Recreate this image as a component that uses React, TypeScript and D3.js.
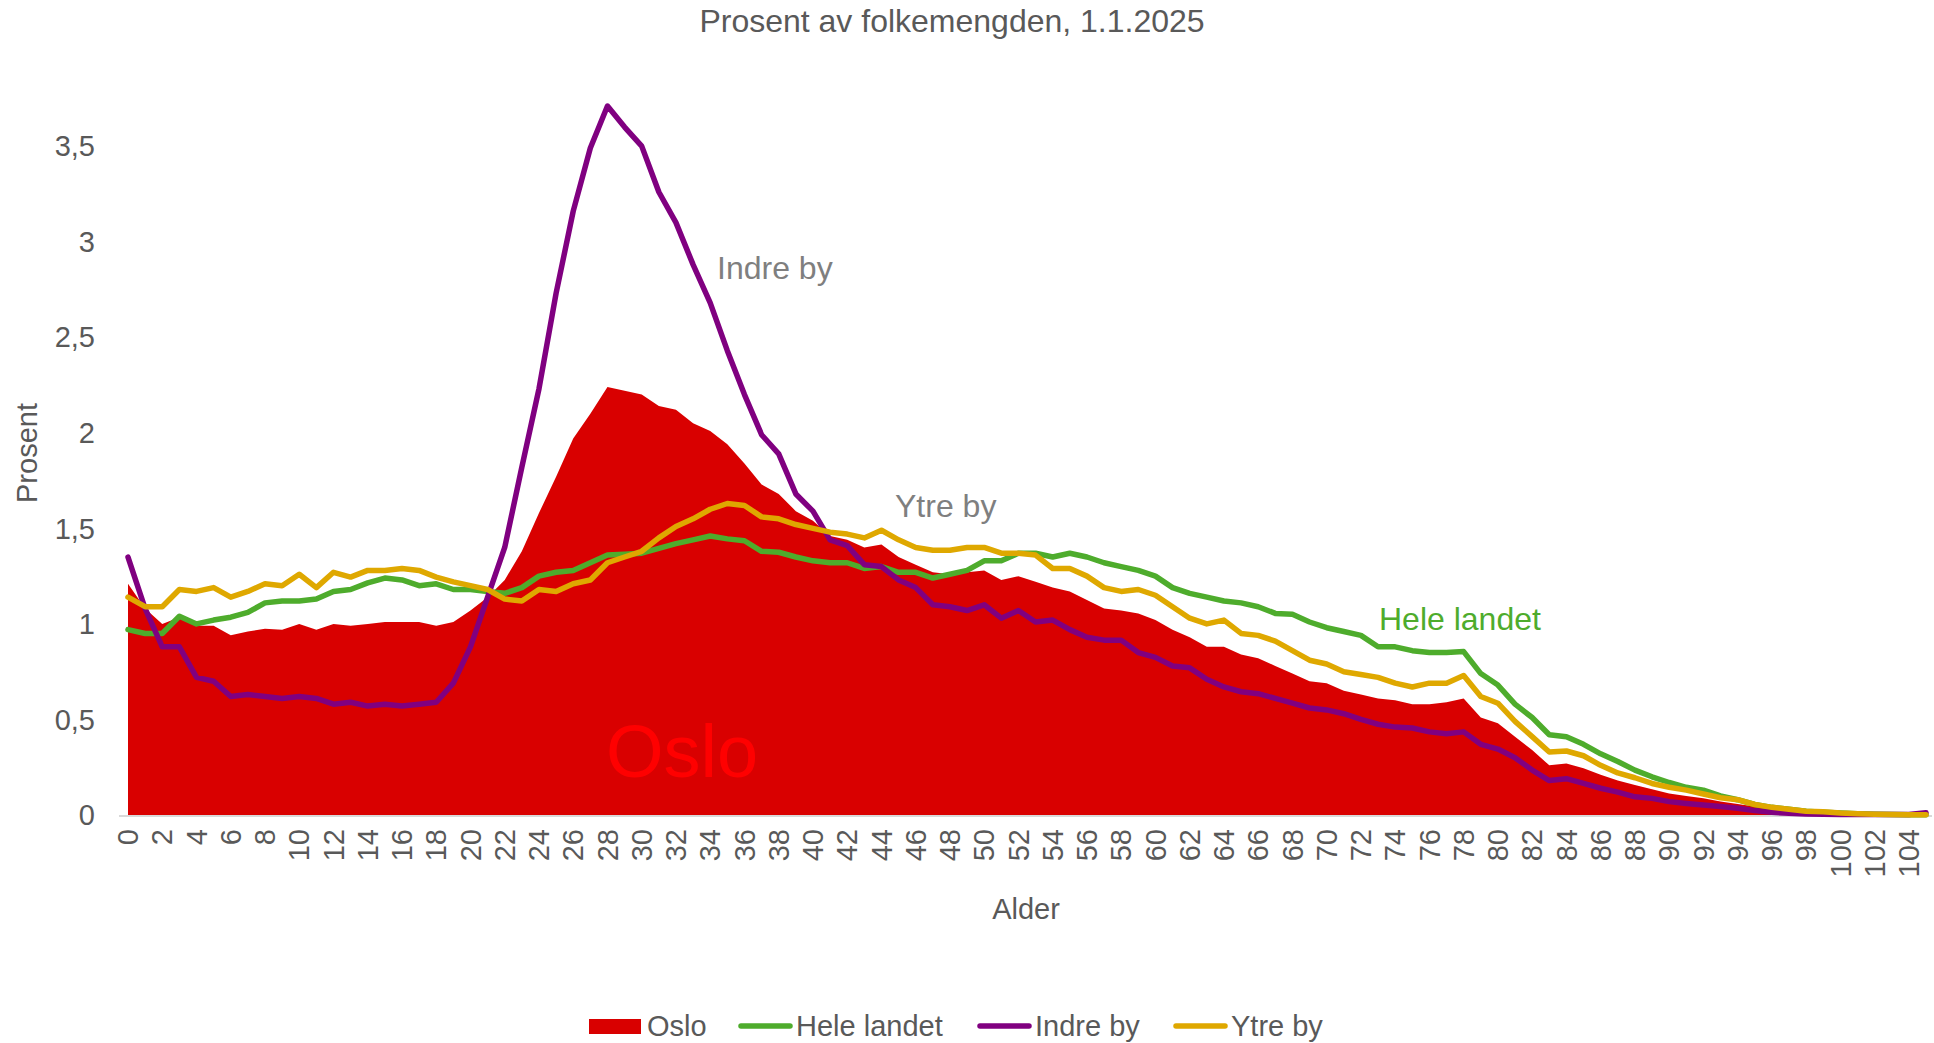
import * as d3 from 'd3';

const ages = d3.range(0, 106);

const oslo = [
  1.21, 1.08, 1.0, 1.035, 0.99, 0.99, 0.94, 0.96, 0.975, 0.97, 1.0, 0.97, 1.0, 0.99, 1.0, 1.01, 1.01, 1.01, 0.99, 1.01,
  1.07, 1.14, 1.23, 1.38, 1.58, 1.77, 1.97, 2.1,
  2.24, 2.22, 2.2, 2.14, 2.12, 2.05, 2.01, 1.94, 1.84, 1.73, 1.68, 1.59, 1.54, 1.46, 1.44, 1.4, 1.415, 1.35, 1.31, 1.27,
  1.26, 1.27, 1.28, 1.23,
  1.25, 1.22, 1.19, 1.17, 1.125, 1.08, 1.07, 1.055, 1.02, 0.97, 0.93, 0.88, 0.88, 0.84, 0.82, 0.78, 0.74, 0.7, 0.69,
  0.65, 0.63, 0.61, 0.6,
  0.58, 0.58, 0.59, 0.61, 0.51, 0.48, 0.41, 0.34, 0.26, 0.27, 0.245, 0.21, 0.18, 0.157, 0.135, 0.113, 0.1, 0.087, 0.07,
  0.058, 0.044, 0.03, 0.023, 0.016, 0.012, 0.009, 0.006, 0.004, 0.003, 0.002, 0.001,
];

const heleLandet = [
  0.97, 0.95, 0.95, 1.04, 1.0, 1.02, 1.035, 1.06, 1.11, 1.12, 1.12, 1.13, 1.17, 1.18, 1.215, 1.24, 1.23, 1.2, 1.21, 1.18,
  1.18, 1.17, 1.16, 1.19, 1.25, 1.27, 1.28, 1.32,
  1.36, 1.365, 1.37, 1.395, 1.42, 1.44, 1.46, 1.445, 1.435, 1.38, 1.375, 1.35, 1.33, 1.32, 1.32, 1.29, 1.3, 1.27,
  1.27, 1.24, 1.26, 1.28, 1.33, 1.33, 1.37, 1.37, 1.35, 1.37, 1.35, 1.32, 1.3, 1.28, 1.25, 1.19, 1.16, 1.14, 1.12, 1.11,
  1.09, 1.055, 1.05, 1.01, 0.98, 0.96, 0.94, 0.88, 0.88,
  0.86, 0.85, 0.85, 0.855, 0.74, 0.68, 0.58, 0.51, 0.42, 0.41, 0.37, 0.32, 0.28, 0.235, 0.2, 0.17, 0.145, 0.13, 0.1,
  0.08, 0.055, 0.04, 0.03, 0.02, 0.015, 0.01, 0.006, 0.004, 0.002, 0.001, 0.001,
];

const indreBy = [
  1.35, 1.08, 0.88, 0.88, 0.72, 0.7, 0.62, 0.63, 0.62, 0.61, 0.62, 0.61, 0.58, 0.59, 0.57, 0.58, 0.57, 0.58, 0.59, 0.69,
  0.88, 1.14, 1.4, 1.82, 2.23, 2.73, 3.16, 3.49,
  3.71, 3.6, 3.5, 3.26, 3.1, 2.88, 2.68, 2.43, 2.2, 1.99, 1.89, 1.68, 1.59, 1.44, 1.41, 1.31, 1.3, 1.23,
  1.19, 1.1, 1.09, 1.07, 1.1, 1.03, 1.07, 1.01, 1.02, 0.97, 0.93, 0.915, 0.915, 0.85, 0.825, 0.78, 0.77, 0.71, 0.67,
  0.645, 0.635, 0.61, 0.585, 0.56, 0.55, 0.53, 0.5, 0.475, 0.46,
  0.455, 0.435, 0.425, 0.435, 0.37, 0.345, 0.3, 0.235, 0.18, 0.19, 0.165, 0.14, 0.12, 0.095, 0.087, 0.07, 0.06, 0.052,
  0.044, 0.035, 0.023, 0.014, 0.009, 0.005, 0.004, 0.003, 0.003, 0.002, 0.002, 0.003, 0.012,
];

const ytreBy = [
  1.14, 1.09, 1.09, 1.18, 1.17, 1.19, 1.14, 1.17, 1.21, 1.2, 1.26, 1.19, 1.27, 1.245, 1.28, 1.28, 1.29, 1.28, 1.245, 1.22,
  1.2, 1.18, 1.13, 1.12, 1.18, 1.17, 1.21, 1.23,
  1.32, 1.35, 1.38, 1.45, 1.51, 1.55, 1.6, 1.63, 1.62, 1.56, 1.55, 1.52, 1.5, 1.48, 1.47, 1.45, 1.49, 1.44,
  1.4, 1.385, 1.385, 1.4, 1.4, 1.37, 1.37, 1.36, 1.29, 1.29, 1.25, 1.19, 1.17, 1.18, 1.15, 1.09, 1.03, 1.0, 1.02, 0.95,
  0.94, 0.91, 0.86, 0.81, 0.79, 0.75, 0.735, 0.72, 0.69,
  0.67, 0.69, 0.69, 0.73, 0.62, 0.585, 0.49, 0.41, 0.33, 0.335, 0.31, 0.26, 0.22, 0.195, 0.165, 0.145, 0.13, 0.11, 0.09,
  0.08, 0.055, 0.04, 0.03, 0.02, 0.017, 0.01, 0.007, 0.004, 0.002, 0.001, 0.001,
];

const yTicks = [0, 0.5, 1, 1.5, 2, 2.5, 3, 3.5];
const xTicks = d3.range(0, 106, 2);

const lineSeries = [
  { name: 'Hele landet', values: heleLandet, color: '#4eac2c' },
  { name: 'Indre by', values: indreBy, color: '#800080' },
  { name: 'Ytre by', values: ytreBy, color: '#dfa800' },
];

const font = "'Liberation Sans', Arial, sans-serif";
const textGray = '#595959';

export default function App() {
  const width = 1934;
  const height = 1043;
  const x = d3.scaleLinear([0, 105], [128, 1926]);
  const y = d3.scaleLinear([0, 4], [815, 815 - 4 * 191.1]);

  const area = d3
    .area<number>()
    .x((d, i) => x(ages[i]))
    .y0(y(0))
    .y1((d) => y(d));
  const line = d3
    .line<number>()
    .x((d, i) => x(ages[i]))
    .y((d) => y(d));

  const fmt = (v: number) => String(v).replace('.', ',');

  // legend entries, x positions only
  const legend = [
    { name: 'Oslo', x: 589, kind: 'rect', color: '#d90000' },
    { name: 'Hele landet', x: 738, kind: 'line', color: '#4eac2c' },
    { name: 'Indre by', x: 977, kind: 'line', color: '#800080' },
    { name: 'Ytre by', x: 1173, kind: 'line', color: '#dfa800' },
  ];

  return (
    <svg
      width={width}
      height={height}
      style={{ position: 'absolute', left: 0, top: 0, background: '#fff' }}
      fontFamily={font}
    >
      <text x={952} y={32} textAnchor="middle" fontSize={32} fill={textGray}>
        Prosent av folkemengden, 1.1.2025
      </text>

      <path d={area(oslo) ?? ''} fill="#d90000" />

      <line x1={119} x2={1932} y1={y(0) + 1} y2={y(0) + 1} stroke="#d9d9d9" strokeWidth={2} />

      {lineSeries.map((s) => (
        <path
          key={s.name}
          d={line(s.values) ?? ''}
          fill="none"
          stroke={s.color}
          strokeWidth={5.5}
          strokeLinejoin="round"
          strokeLinecap="round"
        />
      ))}

      <g fontSize={29} fill={textGray}>
        {yTicks.map((t) => (
          <text key={t} x={95} y={y(t)} dy="0.35em" textAnchor="end">
            {fmt(t)}
          </text>
        ))}
        {xTicks.map((t) => (
          <text key={t} transform={`translate(${x(t)},829) rotate(-90)`} dy="0.35em" textAnchor="end">
            {t}
          </text>
        ))}
        <text x={1026} y={919} textAnchor="middle">
          Alder
        </text>
        <text transform="translate(37,453) rotate(-90)" textAnchor="middle">
          Prosent
        </text>
      </g>

      <g fontSize={32}>
        <text x={717} y={279} fill="#7f7f7f">
          Indre by
        </text>
        <text x={895} y={517} fill="#7f7f7f">
          Ytre by
        </text>
        <text x={1379} y={630} fill="#4eac2c">
          Hele landet
        </text>
      </g>
      <text x={606} y={777} fontSize={74} fill="#ff0000">
        Oslo
      </text>

      <g fontSize={29} fill={textGray}>
        {legend.map((l) => (
          <g key={l.name}>
            {l.kind === 'rect' ? (
              <rect x={l.x} y={1019} width={52} height={15} fill={l.color} />
            ) : (
              <line
                x1={l.x + 3}
                x2={l.x + 52}
                y1={1026}
                y2={1026}
                stroke={l.color}
                strokeWidth={5.5}
                strokeLinecap="round"
              />
            )}
            <text x={l.x + 58} y={1026} dy="0.35em">
              {l.name}
            </text>
          </g>
        ))}
      </g>
    </svg>
  );
}
